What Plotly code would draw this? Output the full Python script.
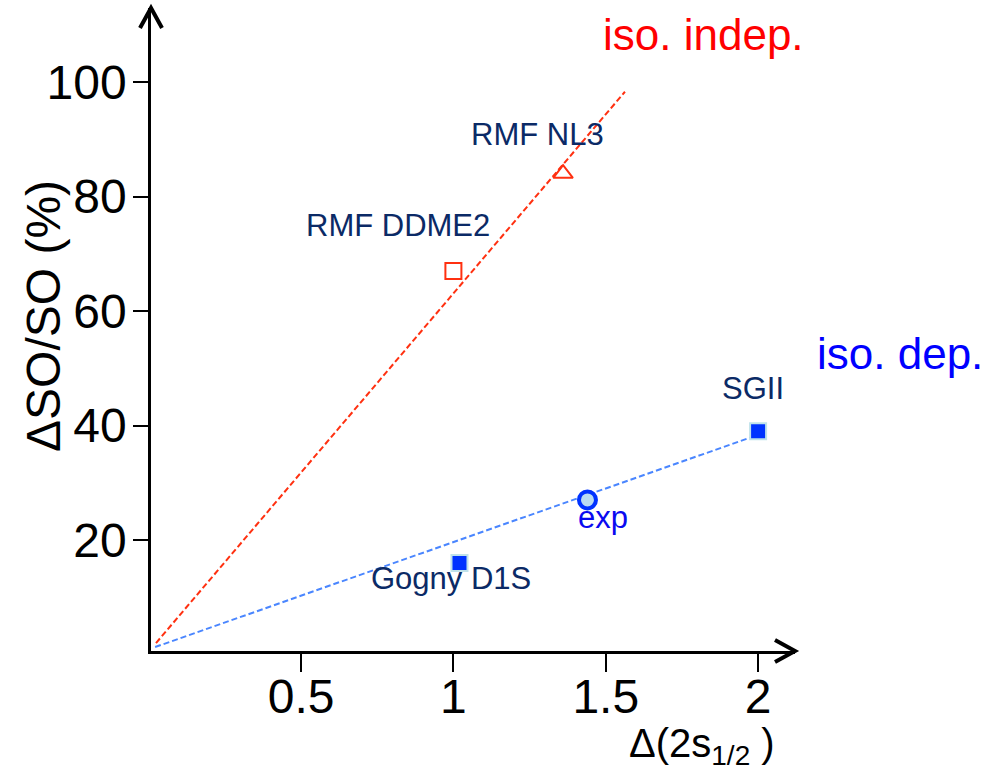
import plotly.graph_objects as go

# ---- data -------------------------------------------------------------
model_names = ["RMF DDME2", "RMF NL3", "Gogny D1S", "SGII", "exp"]
delta_2s = [1.00, 1.36, 1.02, 2.00, 1.44]          # Δ(2s1/2)
delta_so = [67.0, 84.0, 16.0, 39.0, 27.0]          # ΔSO/SO (%)

# trend lines: isospin-independent (red) and isospin-dependent (blue)
indep_x = [0.024, 1.563]
indep_y = [2.0, 98.3]
dep_x = [0.021, 1.98]
dep_y = [1.3, 38.0]

x_ticks = [0.5, 1, 1.5, 2]
x_tick_text = ["0.5", "1", "1.5", "2"]
y_ticks = [20, 40, 60, 80, 100]

# ---- layout geometry (pixels) ----------------------------------------
W, H = 990, 772
L, R, T, B = 151, 195, 8, 121
PW, PH = W - L - R, H - T - B


def px(x):
    return (x - L) / PW


def py(y):
    return (H - B - y) / PH


FONT = "Liberation Sans, Arial, sans-serif"
NAVY = "#0b2a66"
RED = "#ff3010"
BLUE = "#0033ff"

fig = go.Figure()

fig.add_trace(go.Scatter(x=indep_x, y=indep_y, mode="lines",
                         line=dict(color=RED, width=2, dash="6px,3px"),
                         hoverinfo="skip"))
fig.add_trace(go.Scatter(x=dep_x, y=dep_y, mode="lines",
                         line=dict(color="#4a86ff", width=2, dash="6px,3px"),
                         hoverinfo="skip"))

# RMF models: open red symbols
fig.add_trace(go.Scatter(x=delta_2s[0:1], y=delta_so[0:1], mode="markers",
                         marker=dict(symbol="square-open", size=16, color=RED,
                                     line=dict(width=2, color=RED))))
fig.add_trace(go.Scatter(x=delta_2s[1:2], y=delta_so[1:2], mode="markers",
                         marker=dict(symbol="triangle-up-open", size=17, color=RED,
                                     line=dict(width=2, color=RED))))
# Gogny D1S and SGII: filled blue squares
fig.add_trace(go.Scatter(x=delta_2s[2:4], y=delta_so[2:4], mode="markers",
                         marker=dict(symbol="square", size=16, color=BLUE,
                                     line=dict(width=2, color="#bfe2ea"))))
# experiment
fig.add_trace(go.Scatter(x=delta_2s[4:5], y=delta_so[4:5], mode="markers",
                         marker=dict(symbol="circle", size=17, color="#b9dcf2",
                                     line=dict(width=4, color=BLUE))))

# point labels, offset from each point in pixels
label_shift = {
    "RMF DDME2": (-55, -45),
    "RMF NL3": (-26, -39),
    "Gogny D1S": (-8, 16),
    "SGII": (-5, -43),
    "exp": (16, 18),
}
for name, xv, yv in zip(model_names, delta_2s, delta_so):
    dx, dy = label_shift[name]
    fig.add_annotation(x=xv, y=yv, text=name, showarrow=False,
                       xanchor="center", yanchor="middle",
                       xshift=dx, yshift=-dy,
                       font=dict(family=FONT, size=31,
                                 color="#0a0af0" if name == "exp" else NAVY))


def paper_text(x, y, text, size, color, angle=0):
    fig.add_annotation(xref="paper", yref="paper", x=px(x), y=py(y),
                       xanchor="center", yanchor="middle",
                       text=text, textangle=angle, showarrow=False,
                       font=dict(family=FONT, size=size, color=color))


paper_text(703, 35, "iso. indep.", 44, "#ff0000")
paper_text(900, 353, "iso. dep.", 44, "#0000ff")

# axis titles
paper_text(702, 746, "Δ(2s<sub>1/2</sub> )", 40, "black")
paper_text(43, 316, "ΔSO/SO (%)", 48, "black", angle=-90)

# arrow heads on the axes
yb = H - B
fig.add_shape(type="path", xref="paper", yref="paper",
              path=f"M {px(140)} {py(28)} L {px(151)} {py(8)} L {px(162)} {py(28)}",
              line=dict(color="black", width=4))
fig.add_shape(type="path", xref="paper", yref="paper",
              path=f"M {px(775)} {py(yb - 11)} L {px(795)} {py(yb)} L {px(775)} {py(yb + 11)}",
              line=dict(color="black", width=4))

x0 = (151 - 148.7) / 304.7
x1 = (795 - 148.7) / 304.7
y0 = (654.5 - 651) / 5.725
y1 = (654.5 - 8) / 5.725

fig.update_layout(
    width=W, height=H,
    margin=dict(l=L, r=R, t=T, b=B),
    paper_bgcolor="white", plot_bgcolor="white",
    showlegend=False,
    font=dict(family=FONT, color="black"),
    xaxis=dict(range=[x0, x1], showgrid=False, zeroline=False,
               showline=True, linecolor="black", linewidth=2.5,
               ticks="outside", ticklen=18, tickwidth=2, tickcolor="black",
               tickvals=x_ticks, ticktext=x_tick_text, ticklabelstandoff=-16,
               tickfont=dict(family=FONT, size=48, color="black")),
    yaxis=dict(range=[y0, y1], showgrid=False, zeroline=False,
               showline=True, linecolor="black", linewidth=2.5,
               ticks="outside", ticklen=15, tickwidth=2, tickcolor="black",
               tickvals=y_ticks, ticklabelstandoff=-3,
               tickfont=dict(family=FONT, size=48, color="black")),
)

fig.write_html("out.html")
